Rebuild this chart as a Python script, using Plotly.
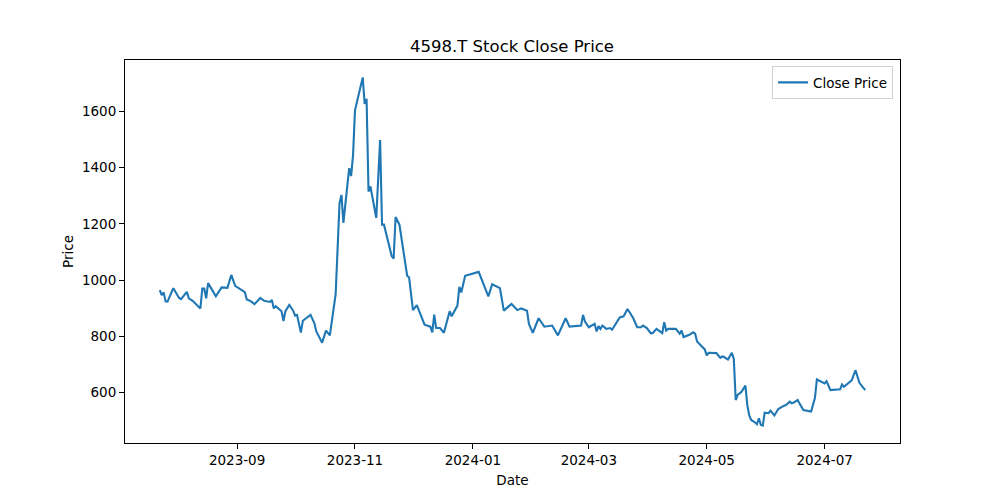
import plotly.graph_objects as go

dates = [
    "2023-07-23", "2023-07-24", "2023-07-25", "2023-07-26", "2023-07-27", "2023-07-30",
    "2023-08-02", "2023-08-03", "2023-08-06", "2023-08-07", "2023-08-09", "2023-08-13",
    "2023-08-14", "2023-08-15", "2023-08-16", "2023-08-17", "2023-08-21", "2023-08-24",
    "2023-08-27", "2023-08-29", "2023-08-31", "2023-09-02", "2023-09-05", "2023-09-06",
    "2023-09-08", "2023-09-10", "2023-09-13", "2023-09-15", "2023-09-18", "2023-09-19",
    "2023-09-20", "2023-09-21", "2023-09-23", "2023-09-24", "2023-09-25", "2023-09-26",
    "2023-09-28", "2023-09-30", "2023-10-01", "2023-10-02", "2023-10-04", "2023-10-05",
    "2023-10-09", "2023-10-11", "2023-10-12", "2023-10-15", "2023-10-17", "2023-10-19",
    "2023-10-22", "2023-10-24", "2023-10-25", "2023-10-26", "2023-10-29", "2023-10-30",
    "2023-10-31", "2023-11-01", "2023-11-05", "2023-11-06", "2023-11-07", "2023-11-08",
    "2023-11-09", "2023-11-12", "2023-11-14", "2023-11-15", "2023-11-16", "2023-11-20",
    "2023-11-21", "2023-11-22", "2023-11-24", "2023-11-28", "2023-11-29", "2023-11-30",
    "2023-12-01", "2023-12-03", "2023-12-07", "2023-12-10", "2023-12-11", "2023-12-12",
    "2023-12-13", "2023-12-15", "2023-12-17", "2023-12-20", "2023-12-21", "2023-12-24",
    "2023-12-25", "2023-12-26", "2023-12-28", "2024-01-04", "2024-01-09", "2024-01-11",
    "2024-01-15", "2024-01-17", "2024-01-21", "2024-01-24", "2024-01-26", "2024-01-29",
    "2024-01-30", "2024-02-01", "2024-02-04", "2024-02-07", "2024-02-11", "2024-02-14",
    "2024-02-18", "2024-02-20", "2024-02-26", "2024-02-27", "2024-02-28", "2024-03-01",
    "2024-03-04", "2024-03-05", "2024-03-06", "2024-03-07", "2024-03-08", "2024-03-10",
    "2024-03-12", "2024-03-13", "2024-03-15", "2024-03-17", "2024-03-19", "2024-03-21",
    "2024-03-24", "2024-03-26", "2024-03-28", "2024-03-29", "2024-03-31", "2024-04-02",
    "2024-04-03", "2024-04-05", "2024-04-08", "2024-04-09", "2024-04-10", "2024-04-11",
    "2024-04-15", "2024-04-17", "2024-04-18", "2024-04-19", "2024-04-22", "2024-04-24",
    "2024-04-25", "2024-04-26", "2024-04-28", "2024-04-30", "2024-05-01", "2024-05-02",
    "2024-05-06", "2024-05-08", "2024-05-09", "2024-05-10", "2024-05-12", "2024-05-14",
    "2024-05-15", "2024-05-16", "2024-05-17", "2024-05-19", "2024-05-21", "2024-05-22",
    "2024-05-23", "2024-05-24", "2024-05-26", "2024-05-27", "2024-05-28", "2024-05-29",
    "2024-05-30", "2024-05-31", "2024-06-02", "2024-06-03", "2024-06-05", "2024-06-07",
    "2024-06-10", "2024-06-11", "2024-06-13", "2024-06-14", "2024-06-15", "2024-06-17",
    "2024-06-20", "2024-06-24", "2024-06-26", "2024-06-27", "2024-07-01", "2024-07-02",
    "2024-07-04", "2024-07-09", "2024-07-10", "2024-07-11", "2024-07-15", "2024-07-17",
    "2024-07-19", "2024-07-22",
]

close_price = [
    964, 946, 956, 924, 923, 971,
    936, 932, 958, 935, 926, 899,
    970, 970, 935, 989, 942, 974,
    972, 1018, 979, 969, 957, 931,
    925, 914, 936, 926, 922, 929,
    899, 907, 897, 889, 854, 889,
    911, 891, 873, 876, 813, 855,
    876, 846, 817, 777, 820, 803,
    950, 1274, 1303, 1203, 1398, 1370,
    1445, 1604, 1721, 1627, 1645, 1315,
    1333, 1221, 1498, 1197, 1197, 1085,
    1076, 1224, 1197, 1015, 1009, 956,
    893, 911, 841, 834, 814, 877,
    829, 829, 812, 889, 871, 909,
    976, 956, 1015, 1029, 942, 985,
    971, 891, 915, 893, 899, 891,
    844, 812, 864, 834, 838, 803,
    864, 834, 838, 876, 852, 832,
    844, 817, 836, 826, 838, 826,
    829, 823, 846, 867, 871, 897,
    864, 832, 832, 838, 829, 811,
    811, 826, 811, 850, 820, 826,
    826, 809, 820, 797, 805, 814,
    809, 781, 767, 753, 732, 741,
    740, 723, 728, 726, 717, 741,
    720, 573, 591, 602, 624, 555,
    518, 502, 493, 487, 508, 484,
    482, 528, 526, 535, 518, 541,
    553, 555, 567, 561, 564, 573,
    537, 532, 581, 646, 632, 640,
    608, 611, 628, 620, 643, 679,
    634, 608,
]

FONT = "DejaVu Sans, Liberation Sans, Arial, sans-serif"

fig = go.Figure()
fig.add_trace(go.Scatter(
    x=dates, y=close_price, mode="lines", name="Close Price",
    line=dict(color="#1f77b4", width=2.1),
))

fig.update_layout(
    width=1000, height=500,
    margin=dict(l=117, r=108, t=52, b=65, autoexpand=False),
    paper_bgcolor="white", plot_bgcolor="white",
    font=dict(family=FONT, size=13.5, color="black"),
    title=dict(text="4598.T Stock Close Price", x=0.504, xanchor="center",
               y=0.924, yanchor="middle", font=dict(size=16.5, color="black")),
    showlegend=True,
    legend=dict(x=0.991, xanchor="right", y=0.984, yanchor="top",
                bordercolor="#d0d0d0", borderwidth=1, bgcolor="rgba(255,255,255,0.8)",
                font=dict(size=13.5), itemwidth=30, tracegroupgap=0),
    xaxis=dict(
        title=dict(text="Date", standoff=8, font=dict(size=13.5)),
        type="date", automargin=False,
        range=["2023-07-05", "2024-08-09"],
        tickformat="%Y-%m", dtick="M2", tick0="2023-09-01",
        ticks="outside", ticklen=5, tickwidth=1, tickcolor="black",
        showline=True, linecolor="black", linewidth=1, mirror=True,
        showgrid=False, zeroline=False,
    ),
    yaxis=dict(
        title=dict(text="Price", standoff=5, font=dict(size=13.5)),
        automargin=False,
        range=[420, 1783],
        tick0=600, dtick=200,
        ticks="outside", ticklen=5, tickwidth=1, tickcolor="black",
        showline=True, linecolor="black", linewidth=1, mirror=True,
        showgrid=False, zeroline=False,
    ),
)

fig.write_html("out.html")
